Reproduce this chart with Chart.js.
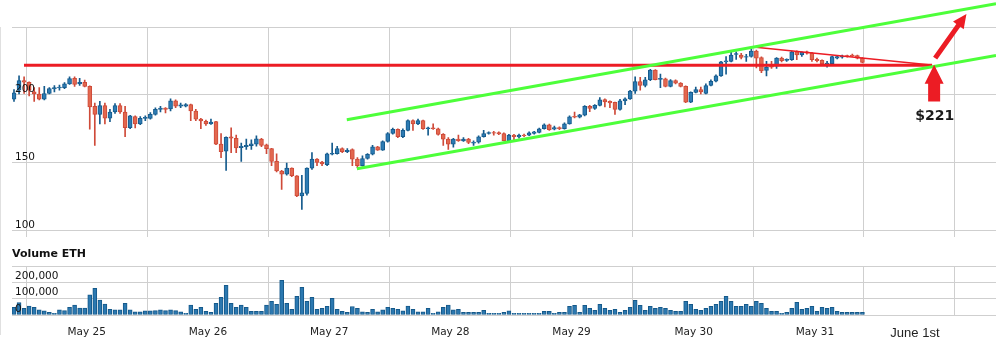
<!DOCTYPE html>
<html>
<head>
<meta charset="utf-8">
<title>ETH hourly</title>
<script src="https://cdn.jsdelivr.net/npm/chart.js@4.4.1/dist/chart.umd.min.js"></script>
<style>
  html, body { margin: 0; padding: 0; background: #fff; }
  #wrap { position: relative; width: 996px; height: 343px; overflow: hidden; }
  #priceChart { position: absolute; left: 0; top: 0; }
  #volumeChart { position: absolute; left: 0; top: 246px; }
  #edge { position: absolute; left: 0; top: 27px; width: 1px; height: 308px; background: #e0e0e0; }
</style>
</head>
<body>
<div id="wrap">
  <canvas id="priceChart" width="996" height="246"></canvas>
  <canvas id="volumeChart" width="996" height="97"></canvas>
  <div id="edge"></div>
</div>
<script>
/************************************************************
 * DATA (hourly candles, May 24 - May 31)
 ************************************************************/
const opens = [
  196.9, 203.5, 210.6, 209.4, 202.3, 200.7, 196.9, 201.1, 204.5, 205.2,
  205.4, 208.2, 212.2, 208.2, 209.4, 206.3, 191.7, 185.8, 192.2, 183.0,
  187.5, 192.2, 187.5, 175.9, 184.2, 178.8, 182.8, 182.8, 185.8, 189.4,
  190.3, 189.8, 195.7, 191.7, 191.7, 192.9, 188.2, 182.3, 180.6, 178.8,
  180.4, 163.9, 158.7, 169.3, 168.2, 161.3, 162.0, 162.7, 163.9, 167.5,
  163.4, 160.6, 151.2, 144.1, 141.8, 146.2, 140.6, 125.8, 127.6, 146.2,
  152.8, 150.7, 148.8, 156.4, 156.8, 160.6, 158.3, 159.9, 152.8, 148.1,
  153.3, 156.4, 161.8, 159.4, 165.8, 171.7, 174.8, 169.3, 174.0, 181.1,
  178.8, 181.1, 175.2, 175.9, 175.2, 171.0, 167.5, 163.9, 167.5, 166.3,
  167.5, 164.6, 165.3, 169.3, 171.7, 172.4, 172.4, 171.7, 166.5, 170.5,
  169.1, 170.5, 170.5, 171.7, 172.4, 175.2, 178.1, 174.8, 176.0, 175.2,
  178.8, 184.4, 183.7, 185.1, 191.7, 190.1, 192.4, 196.7, 195.3, 194.6,
  189.4, 195.7, 197.1, 202.8, 209.9, 207.0, 211.3, 218.4, 211.5, 211.8,
  206.3, 210.6, 208.7, 206.3, 194.8, 201.9, 204.0, 201.2, 207.0, 210.1,
  214.1, 224.3, 224.7, 229.9, 229.4, 227.8, 228.3, 232.3, 227.6, 218.1,
  221.2, 221.2, 227.1, 225.4, 225.9, 231.8, 229.4, 231.8, 230.8, 226.3,
  225.4, 222.8, 223.1, 227.1, 227.8, 229.0, 229.4, 229.0, 227.1
];
const closes = [
  201.6, 210.6, 209.4, 203.5, 200.7, 196.9, 201.1, 204.7, 205.4, 205.9,
  208.2, 212.0, 207.8, 209.4, 206.3, 191.3, 185.8, 192.2, 183.0, 187.5,
  192.2, 187.5, 175.9, 184.7, 178.8, 182.8, 183.5, 185.8, 189.4, 190.3,
  189.4, 195.7, 191.7, 192.7, 192.9, 188.2, 182.3, 180.9, 178.8, 180.0,
  163.9, 158.3, 168.9, 168.2, 161.1, 162.3, 163.0, 164.1, 167.7, 163.0,
  160.6, 151.2, 144.1, 141.8, 146.2, 140.6, 125.8, 128.1, 146.2, 152.8,
  150.5, 149.3, 156.8, 157.1, 160.6, 158.3, 159.4, 152.8, 148.1, 153.3,
  156.4, 161.8, 159.4, 165.8, 171.7, 174.8, 169.3, 174.0, 181.1, 178.8,
  181.1, 175.2, 175.9, 175.2, 171.0, 167.5, 163.9, 167.5, 166.5, 167.5,
  165.1, 165.3, 169.3, 171.7, 172.4, 172.0, 171.4, 166.5, 170.5, 169.3,
  170.5, 170.0, 172.2, 172.9, 175.2, 178.1, 174.5, 176.0, 175.2, 178.8,
  184.0, 183.7, 185.4, 191.7, 190.1, 192.4, 196.4, 195.0, 194.1, 189.4,
  195.7, 197.1, 202.8, 209.9, 207.0, 211.1, 218.4, 211.3, 212.2, 206.3,
  210.6, 208.7, 206.3, 194.8, 201.9, 204.0, 202.3, 207.0, 210.1, 214.1,
  224.3, 225.2, 229.4, 230.4, 227.6, 228.3, 232.3, 227.1, 217.7, 220.5,
  220.5, 227.1, 225.2, 226.3, 231.8, 229.4, 231.3, 230.8, 225.9, 225.2,
  222.8, 223.5, 228.3, 228.3, 228.7, 228.3, 228.7, 227.1, 224.0
];
const highs = [
  204.0, 214.1, 213.4, 209.6, 205.4, 205.4, 206.3, 205.4, 207.0, 207.3,
  209.2, 213.4, 213.4, 212.2, 211.0, 206.8, 194.1, 195.3, 194.1, 189.4,
  193.6, 193.6, 191.7, 185.1, 184.7, 184.2, 184.7, 187.0, 190.6, 191.7,
  190.8, 197.1, 196.4, 194.1, 193.6, 193.4, 189.4, 182.8, 181.6, 182.3,
  180.6, 171.7, 169.3, 175.9, 170.5, 164.6, 167.5, 167.0, 170.0, 168.2,
  163.9, 160.8, 156.8, 144.6, 150.0, 146.5, 140.8, 141.0, 146.5, 157.6,
  153.3, 151.2, 157.3, 164.6, 162.3, 161.1, 160.6, 160.4, 154.0, 155.2,
  156.9, 163.0, 162.3, 166.3, 172.4, 175.7, 175.2, 175.2, 181.8, 181.8,
  182.3, 181.6, 176.4, 178.8, 175.7, 171.7, 168.6, 168.2, 170.5, 168.6,
  168.2, 166.3, 170.0, 174.0, 172.9, 173.3, 172.9, 172.2, 171.0, 171.0,
  171.2, 171.2, 172.9, 173.3, 175.7, 178.8, 178.6, 177.1, 176.6, 179.5,
  184.7, 187.5, 185.8, 192.2, 192.4, 192.9, 198.1, 197.1, 195.7, 194.8,
  196.9, 197.9, 203.5, 213.4, 213.0, 213.0, 218.8, 218.6, 215.3, 212.5,
  211.3, 211.1, 209.2, 206.8, 202.3, 205.9, 205.9, 208.2, 211.1, 214.8,
  224.7, 228.3, 231.3, 231.8, 230.6, 229.9, 234.1, 233.0, 228.0, 224.7,
  224.7, 227.6, 227.8, 226.6, 232.3, 232.5, 231.8, 232.3, 231.3, 227.1,
  225.9, 224.7, 228.7, 229.0, 229.4, 229.4, 230.1, 229.4, 227.6
];
const lows = [
  195.3, 200.7, 201.2, 199.3, 195.3, 196.4, 196.4, 200.7, 202.3, 203.5,
  204.7, 207.8, 206.3, 207.0, 205.9, 174.8, 163.0, 178.8, 178.8, 180.4,
  186.5, 186.5, 169.3, 175.2, 175.7, 178.1, 181.1, 182.3, 185.1, 187.5,
  186.8, 188.2, 190.6, 190.6, 191.3, 181.1, 181.1, 175.2, 177.6, 178.3,
  163.4, 154.0, 144.6, 157.6, 157.6, 151.2, 160.0, 160.0, 162.3, 162.0,
  156.8, 148.1, 143.4, 130.5, 141.0, 139.9, 125.3, 115.8, 126.4, 145.3,
  148.1, 148.1, 148.1, 155.9, 156.4, 157.6, 157.6, 148.1, 146.5, 147.6,
  152.8, 155.9, 159.2, 159.2, 165.3, 171.2, 168.6, 168.6, 173.6, 174.0,
  178.1, 174.7, 170.5, 174.7, 170.5, 163.0, 159.9, 161.6, 165.8, 165.8,
  164.2, 163.0, 164.6, 168.9, 171.2, 170.5, 170.9, 166.3, 165.8, 167.0,
  168.2, 169.3, 170.0, 171.2, 172.2, 174.8, 174.0, 174.3, 174.5, 174.8,
  178.6, 183.2, 183.2, 184.7, 187.8, 189.4, 191.9, 191.3, 190.6, 185.8,
  188.9, 192.9, 196.7, 201.2, 203.5, 205.9, 210.6, 211.1, 205.4, 205.9,
  205.9, 208.2, 205.9, 194.3, 194.3, 201.6, 200.7, 200.7, 206.6, 209.6,
  213.6, 215.3, 224.3, 226.1, 226.6, 224.7, 227.8, 220.0, 216.5, 214.1,
  219.5, 219.5, 224.3, 224.7, 225.4, 225.9, 228.3, 230.1, 224.7, 224.3,
  222.4, 220.5, 222.8, 226.6, 227.1, 227.8, 228.3, 226.6, 223.5
];
const volumes = [
  47000, 76000, 41000, 55000, 47000, 31000, 25000, 16000, 10000, 31000,
  27000, 47000, 60000, 43000, 43000, 123000, 164000, 92000, 67000, 35000,
  31000, 31000, 72000, 31000, 20000, 20000, 25000, 25000, 27000, 31000,
  27000, 31000, 27000, 20000, 10000, 60000, 35000, 47000, 23000, 16000,
  72000, 108000, 182000, 72000, 47000, 60000, 47000, 23000, 23000, 23000,
  60000, 84000, 66000, 213000, 72000, 35000, 115000, 170000, 84000, 108000,
  35000, 41000, 53000, 102000, 35000, 23000, 16000, 52000, 41000, 20000,
  16000, 35000, 20000, 31000, 47000, 41000, 35000, 25000, 55000, 35000,
  20000, 20000, 41000, 10000, 20000, 47000, 61000, 31000, 35000, 16000,
  16000, 16000, 16000, 29000, 10000, 10000, 10000, 16000, 25000, 10000,
  10000, 10000, 10000, 10000, 10000, 22000, 22000, 10000, 16000, 16000,
  53000, 59000, 16000, 59000, 41000, 29000, 65000, 41000, 29000, 35000,
  16000, 29000, 47000, 90000, 59000, 29000, 53000, 41000, 47000, 41000,
  29000, 22000, 22000, 84000, 65000, 35000, 29000, 41000, 53000, 65000,
  84000, 115000, 84000, 53000, 53000, 65000, 53000, 84000, 72000, 41000,
  22000, 22000, 10000, 16000, 41000, 78000, 35000, 41000, 53000, 22000,
  47000, 41000, 47000, 22000, 16000, 16000, 16000, 16000, 16000
];

// day boundaries (in candle units) and label positions
const dayGrid = [2.38, 26.38, 50.38, 74.38, 98.38, 122.38, 146.38, 168.3, 186.3];
const dayLabels = ["May 25", "May 26", "May 27", "May 28", "May 29", "May 30", "May 31", "June 1st"];
const dayLabelPos = [14.4, 38.4, 62.4, 86.4, 110.4, 134.6, 158.6, 178.4];
const priceTicks = [100, 150, 200, 250];
const volumeTicks = [0, 100000, 200000, 300000];

// hand-drawn annotations, [candle, price]
const resistance = [[1.98, 221.9], [181.8, 221.9]];
const wedgeTop = [[145.9, 235.4], [181.6, 222.1]];
const channelUpper = [[65.9, 181.8], [194.45, 267.2]];
const channelLower = [[67.9, 145.8], [194.45, 229.0]];
const arrowUp = [[182.2, 195.3], [182.2, 222.3]];
const arrowOut = [[182.4, 227.1], [188.6, 259.6]];
const targetText = "$221";
const targetAt = [182.3, 184.3];

/************************************************************
 * STYLE
 ************************************************************/
const X_MIN = -0.396;
const X_MAX = 194.45;
const GRID = "#cfcfcf";
const UP_FILL = "#2d7bb3", UP_LINE = "#155b8d";
const DOWN_FILL = "#e2684f", DOWN_LINE = "#cf4a39";
const RED = "#ec1c24";
const GREEN = "#4dff3a";
const FONT = "DejaVu Sans";

const idx = opens.map((_, i) => i);
const isUp = (i) => closes[i] >= opens[i];
const pts = (arr) => arr.map(([x, y]) => ({ x, y }));

function drawArrow(ctx, [x0, y0], [x1, y1], shaft, headLen, headW) {
  const len = Math.hypot(x1 - x0, y1 - y0);
  ctx.save();
  ctx.translate(x0, y0);
  ctx.rotate(Math.atan2(y1 - y0, x1 - x0));
  ctx.beginPath();
  ctx.moveTo(0, -shaft / 2);
  ctx.lineTo(len - headLen, -shaft / 2);
  ctx.lineTo(len - headLen, -headW / 2);
  ctx.lineTo(len, 0);
  ctx.lineTo(len - headLen, headW / 2);
  ctx.lineTo(len - headLen, shaft / 2);
  ctx.lineTo(0, shaft / 2);
  ctx.closePath();
  ctx.fill();
  ctx.restore();
}

const annotate = {
  id: "annotate",
  afterDatasetsDraw(chart) {
    const { ctx, scales } = chart;
    const px = (p) => [scales.x.getPixelForValue(p[0]), scales.y.getPixelForValue(p[1])];
    ctx.save();
    ctx.fillStyle = RED;
    drawArrow(ctx, px(arrowUp[0]), px(arrowUp[1]), 12, 19, 19);
    drawArrow(ctx, px(arrowOut[0]), px(arrowOut[1]), 5, 14, 13);
    const [tx, ty] = px(targetAt);
    ctx.fillStyle = "#1b1b1b";
    ctx.font = `bold 14px "${FONT}"`;
    ctx.textAlign = "center";
    ctx.textBaseline = "middle";
    ctx.fillText(targetText, tx, ty);
    ctx.restore();
  },
};

const xGrid = {
  type: "linear",
  min: X_MIN,
  max: X_MAX,
  offset: false,
  afterBuildTicks: (s) => { s.ticks = dayGrid.map((v) => ({ value: v })); },
  grid: { color: GRID, drawTicks: false, offset: false },
  border: { display: false },
  ticks: { display: false },
};

// y grid sits under the marks, y labels are drawn over them (ticks.z: 1)
function yPair(min, max, tickList, fmt) {
  const build = (s) => { s.ticks = tickList.map((v) => ({ value: v })); };
  return {
    y: {
      min, max,
      afterBuildTicks: build,
      afterFit: (s) => { s.width = 0; },
      grid: { color: GRID, drawTicks: false },
      border: { display: false },
      ticks: { display: false },
    },
    yl: {
      min, max,
      position: "left",
      afterBuildTicks: build,
      afterFit: (s) => { s.width = 12; },
      grid: { display: false, drawTicks: false },
      border: { display: false },
      ticks: {
        z: 1,
        mirror: true,
        padding: 3,
        labelOffset: -6,
        autoSkip: false,
        color: "#111",
        font: { family: FONT, size: 10.5 },
        callback: fmt,
      },
    },
  };
}

/************************************************************
 * PRICE CHART
 ************************************************************/
new Chart(document.getElementById("priceChart"), {
  type: "bar",
  data: {
    datasets: [
      {
        type: "line", data: pts(channelUpper), borderColor: GREEN, borderWidth: 3,
        pointRadius: 0, clip: false, order: 0,
      },
      {
        type: "line", data: pts(channelLower), borderColor: GREEN, borderWidth: 3,
        pointRadius: 0, clip: false, order: 0,
      },
      {
        type: "line", data: pts(resistance), borderColor: RED, borderWidth: 3,
        pointRadius: 0, clip: false, order: 0,
      },
      {
        type: "line", data: pts(wedgeTop), borderColor: RED, borderWidth: 1.5,
        pointRadius: 0, clip: false, order: 0,
      },
      {
        label: "body",
        data: idx.map((i) => ({ x: i, y: [opens[i], closes[i]] })),
        backgroundColor: (c) => (isUp(c.dataIndex) ? UP_FILL : DOWN_FILL),
        borderColor: (c) => (isUp(c.dataIndex) ? UP_LINE : DOWN_LINE),
        borderWidth: 1,
        borderSkipped: false,
        barThickness: 4,
        grouped: false,
        order: 1,
      },
      {
        label: "wick",
        data: idx.map((i) => ({ x: i, y: [lows[i], highs[i]] })),
        backgroundColor: (c) => (isUp(c.dataIndex) ? UP_LINE : DOWN_LINE),
        borderWidth: 0,
        barThickness: 1,
        grouped: false,
        order: 2,
      },
    ],
  },
  options: {
    responsive: false,
    animation: false,
    events: [],
    layout: { padding: { top: 27, left: 0, right: 0, bottom: 0 } },
    plugins: { legend: { display: false }, tooltip: { enabled: false } },
    scales: {
      x: xGrid,
      ...yPair(95.8, 250, priceTicks, (v) => (v === 250 ? "" : String(v))),
    },
  },
  plugins: [annotate],
});

/************************************************************
 * VOLUME CHART
 ************************************************************/
new Chart(document.getElementById("volumeChart"), {
  type: "bar",
  data: {
    datasets: [
      {
        label: "Volume ETH",
        data: idx.map((i) => ({ x: i, y: volumes[i] })),
        backgroundColor: "#2b78b0",
        borderColor: "#15598a",
        borderWidth: 1,
        borderSkipped: false,
        barThickness: 4,
        grouped: false,
      },
    ],
  },
  options: {
    responsive: false,
    animation: false,
    events: [],
    plugins: {
      legend: { display: false },
      tooltip: { enabled: false },
      title: {
        display: true,
        text: "Volume ETH",
        align: "start",
        fullSize: false,
        color: "#111",
        font: { family: FONT, size: 11, weight: "bold" },
        padding: { top: 2, bottom: 4.8 },
      },
    },
    scales: {
      x: xGrid,
      xl: {
        type: "linear",
        position: "bottom",
        min: X_MIN,
        max: X_MAX,
        offset: false,
        afterBuildTicks: (s) => { s.ticks = dayLabelPos.map((v) => ({ value: v })); },
        afterFit: (s) => { s.height = 28; },
        grid: { display: false, drawTicks: false },
        border: { display: false },
        ticks: {
          autoSkip: false,
          maxRotation: 0,
          padding: 11,
          color: "#222",
          font: (c) => (c.index === dayLabels.length - 1
            ? { family: "Liberation Sans", size: 13 }
            : { family: FONT, size: 10.5 }),
          callback: (v, i) => dayLabels[i],
        },
      },
      ...yPair(0, 300000, volumeTicks, (v) => (v === 300000 ? "" : v.toLocaleString("en-US"))),
    },
  },
});
</script>
</body>
</html>
